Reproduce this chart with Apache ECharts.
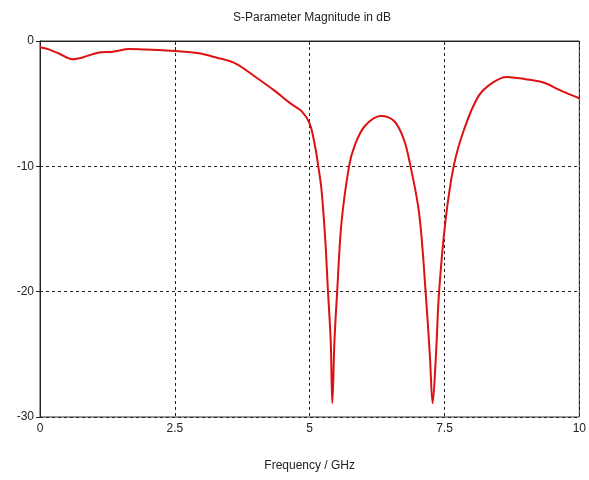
<!DOCTYPE html>
<html><head><meta charset="utf-8">
<script src="https://cdn.jsdelivr.net/npm/echarts@6/dist/echarts.min.js"></script>
<style>html,body{margin:0;padding:0;background:#fff;overflow:hidden}#c{width:589px;height:480px}</style>
</head><body><div id="c"></div>
<script>
const title = "S-Parameter Magnitude in dB";
const xName = "Frequency / GHz";
const xTicks = [0, 2.5, 5, 7.5, 10];
const yTicks = [-30, -20, -10, 0];
const freq = [0, 0.15, 0.35, 0.6, 0.8, 1.07, 1.35, 1.66, 1.96, 2.52, 2.95, 3.25, 3.62, 3.99, 4.36, 4.65, 4.85, 5.0, 5.1, 5.16, 5.22, 5.29, 5.34, 5.39, 5.42, 5.46, 5.51, 5.59, 5.73, 5.83, 6.02, 6.32, 6.57, 6.75, 6.87, 7.03, 7.15, 7.23, 7.28, 7.34, 7.4, 7.52, 7.67, 7.86, 8.13, 8.4, 8.66, 9.0, 9.36, 9.63, 10];
const mag = [-0.5, -0.65, -1.0, -1.45, -1.3, -0.93, -0.85, -0.64, -0.68, -0.8, -0.98, -1.3, -1.78, -2.85, -4.0, -5.0, -5.6, -6.6, -8.4, -10, -11.9, -15.9, -20, -23.9, -28.9, -23.9, -20, -14.5, -10, -8.4, -6.8, -5.98, -6.4, -7.9, -10, -13.75, -20, -25.2, -28.9, -25.2, -20, -14.3, -10, -7.1, -4.4, -3.3, -2.87, -3.05, -3.35, -3.9, -4.57];

const chart = echarts.init(document.getElementById('c'), null, {renderer: 'canvas'});
const font = 'Liberation Sans';
chart.setOption({
  animation: false,
  backgroundColor: '#fff',
  title: {text: title, left: 307, top: 7, textAlign: 'center',
    textStyle: {fontFamily: font, fontSize: 12, fontWeight: 'normal', color: '#222'}},
  grid: {left: 40, right: 6, top: 41, bottom: 63, show: true, borderColor: '#333', borderWidth: 1},
  xAxis: {type: 'value', min: 0, max: 10, interval: 2.5,
    name: xName, nameLocation: 'middle', nameGap: 43,
    nameTextStyle: {fontFamily: font, fontSize: 12, color: '#222'},
    axisLine: {lineStyle: {color: '#222'}},
    axisTick: {show: true, length: 4, lineStyle: {color: '#222'}},
    axisLabel: {fontFamily: font, fontSize: 12, color: '#222', margin: 6,
      formatter: v => xTicks.includes(v) ? String(v) : ''},
    splitLine: {show: true, lineStyle: {color: '#222', type: [3, 3], width: 1}}},
  yAxis: {type: 'value', min: -30, max: 0, interval: 10,
    axisLine: {show: true, lineStyle: {color: '#222'}},
    axisTick: {show: true, length: 4, lineStyle: {color: '#222'}},
    axisLabel: {fontFamily: font, fontSize: 12, color: '#222', margin: 6,
      formatter: v => yTicks.includes(v) ? String(v) : ''},
    splitLine: {show: true, lineStyle: {color: '#222', type: [3, 3], width: 1}}},
  series: [{type: 'line', data: freq.map((f, i) => [f, mag[i]]), showSymbol: false,
    smooth: 0.35,
    lineStyle: {color: '#dd1111', width: 2}}]
});
</script></body></html>
